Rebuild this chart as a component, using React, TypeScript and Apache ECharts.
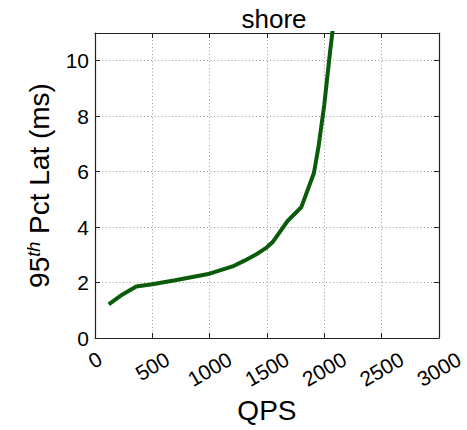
import React, { useEffect, useRef } from "react";
import * as echarts from "echarts";

const qps = [120, 240, 360, 500, 700, 1000, 1200, 1300, 1400, 1500, 1550, 1680, 1800, 1910, 1950, 2000, 2050, 2100];
const latency = [1.21, 1.57, 1.86, 1.94, 2.08, 2.32, 2.58, 2.78, 3.0, 3.27, 3.46, 4.22, 4.72, 5.95, 6.9, 8.4, 10.3, 12.0];
const titleText = "shore";
const xName = "QPS";
const xMin = 0;
const xMax = 3000;
const xStep = 500;
const yMin = 0;
const yMax = 11;
const yStep = 2;

const FONT = "'Liberation Sans', Arial, Helvetica, sans-serif";

export default function App() {
  const ref = useRef<HTMLDivElement>(null);
  useEffect(() => {
    if (!ref.current) return;
    const chart = echarts.init(ref.current, null, { renderer: "svg" });
    const points = qps.map((q, i) => [q, latency[i]]);
    const gridStyle = { color: "#9a9a9a", width: 1, type: [1, 2.5] as any };
    const tick = { show: true, inside: true, length: 5, lineStyle: { color: "#222", width: 1 } };
    const line = { show: true, onZero: false, lineStyle: { color: "#222", width: 1.2 } };
    chart.setOption({
      animation: false,
      backgroundColor: "#fff",
      title: {
        text: titleText,
        left: 269,
        textAlign: "center",
        top: 1,
        textStyle: { fontFamily: FONT, fontSize: 26, fontWeight: "normal", color: "#000" },
      },
      grid: { left: 95, right: 22, top: 33, bottom: 92, containLabel: false },
      xAxis: [
        {
          type: "value",
          min: xMin,
          max: xMax,
          interval: xStep,
          position: "bottom",
          axisLine: line,
          axisTick: tick,
          splitLine: { show: true, lineStyle: gridStyle },
          axisLabel: {
            rotate: 30,
            align: "center",
            verticalAlign: "middle",
            margin: 19,
            fontFamily: FONT,
            fontSize: 21,
            color: "#000",
            formatter: (v: number) => {
              const s = String(v);
              return "{p" + s.length + "|" + s + "}";
            },
            rich: {
              p1: { fontFamily: FONT, fontSize: 21, color: "#000", padding: [5, 3, 0, 0] },
              p3: { fontFamily: FONT, fontSize: 21, color: "#000", padding: [16, 9, 0, 0] },
              p4: { fontFamily: FONT, fontSize: 21, color: "#000", padding: [21, 12, 0, 0] },
            },
          },
          name: xName,
          nameLocation: "middle",
          nameGap: 55,
          nameTextStyle: { fontFamily: FONT, fontSize: 28, color: "#000" },
        },
        {
          type: "value",
          min: xMin,
          max: xMax,
          interval: xStep,
          position: "top",
          axisLine: line,
          axisTick: tick,
          axisLabel: { show: false },
          splitLine: { show: false },
        },
      ],
      yAxis: [
        {
          type: "value",
          min: yMin,
          max: yMax,
          interval: yStep,
          position: "left",
          axisLine: line,
          axisTick: tick,
          splitLine: { show: true, lineStyle: gridStyle },
          axisLabel: {
            margin: 6,
            fontFamily: FONT,
            fontSize: 21,
            color: "#000",
            showMaxLabel: false,
          },
          name: "{n|95}{s|th}{n| Pct Lat (ms)}",
          nameLocation: "middle",
          nameRotate: 90,
          nameGap: 42,
          nameTextStyle: {
            fontFamily: FONT,
            fontSize: 28,
            color: "#000",
            rich: {
              n: { fontFamily: FONT, fontSize: 28, color: "#000" },
              s: { fontFamily: FONT, fontSize: 18, fontStyle: "italic", color: "#000", verticalAlign: "top" },
            },
          },
        },
        {
          type: "value",
          min: yMin,
          max: yMax,
          interval: yStep,
          position: "right",
          axisLine: line,
          axisTick: tick,
          axisLabel: { show: false },
          splitLine: { show: false },
        },
      ],
      series: [
        {
          type: "line",
          data: points,
          xAxisIndex: 0,
          yAxisIndex: 0,
          showSymbol: false,
          symbol: "none",
          clip: true,
          lineStyle: { color: "#0a5c0a", width: 4 },
        },
      ],
    });
    return () => chart.dispose();
  }, []);
  return (
    <div
      ref={ref}
      style={{ position: "fixed", left: 0, top: 0, width: 467, height: 430, background: "#fff" }}
    />
  );
}
